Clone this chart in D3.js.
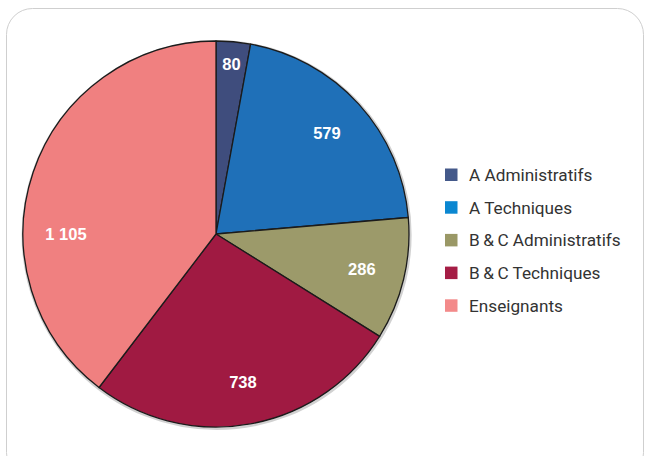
<!DOCTYPE html>
<html>
<head>
<meta charset="utf-8">
<script src="https://cdn.jsdelivr.net/npm/d3@7"></script>
<style>
  html, body { margin: 0; padding: 0; background: #fff; }
  svg { display: block; }
</style>
</head>
<body>
<svg id="chart" width="646" height="456"></svg>
<script>
// Effectifs par catégorie
const categories = ["A Administratifs", "A Techniques", "B\u2009&\u2009C Administratifs", "B\u2009&\u2009C Techniques", "Enseignants"];
const values = [80, 579, 286, 738, 1105];
const colors = ["#3f4d7d", "#1f70b8", "#9c9a6a", "#a01a42", "#f08080"];
const legendColors = ["#44598a", "#0b87d1", "#9a9866", "#a51d45", "#f38a8a"];

const width = 646, height = 456;
const cx = 216, cy = 234, radius = 193;

const svg = d3.select("#chart");

// cadre arrondi
svg.append("rect")
  .attr("x", 6.5).attr("y", 8.5)
  .attr("width", 637).attr("height", 470)
  .attr("rx", 26).attr("ry", 26)
  .attr("fill", "#fff")
  .attr("stroke", "#cfcfcf")
  .attr("stroke-width", 1);

const fr = d3.formatLocale({ decimal: ",", thousands: "\u00a0", grouping: [3], currency: ["", " €"] });
const fmt = fr.format(",d");

const data = categories.map((c, i) => ({ name: c, value: values[i], color: colors[i] }));

const pie = d3.pie().sort(null).value(d => d.value);
const arcs = pie(data);
const arc = d3.arc().innerRadius(0).outerRadius(radius);

const g = svg.append("g").attr("transform", `translate(${cx},${cy})`);

// légère ombre du contour
g.append("circle")
  .attr("r", radius + 0.8)
  .attr("fill", "none")
  .attr("stroke", "rgba(0,0,0,0.18)")
  .attr("stroke-width", 2.5)
  .attr("transform", "translate(0.6,1)");

g.selectAll("path.slice")
  .data(arcs)
  .join("path")
  .attr("class", "slice")
  .attr("d", arc)
  .attr("fill", d => d.data.color)
  .attr("stroke", "#1b1b1b")
  .attr("stroke-width", 1.3)
  .attr("stroke-linejoin", "round");

// placement des étiquettes : rayon et angle ajustés pour certaines parts
const labelRadius = 150;
const labelTweaks = {
  "A Administratifs": { r: 171 },
  "Enseignants": { angle: 3 * Math.PI / 2 }
};

g.selectAll("text.val")
  .data(arcs)
  .join("text")
  .attr("class", "val")
  .each(function (d) {
    const t = labelTweaks[d.data.name] || {};
    const a = t.angle !== undefined ? t.angle : (d.startAngle + d.endAngle) / 2;
    const r = t.r || labelRadius;
    d3.select(this)
      .attr("x", r * Math.sin(a))
      .attr("y", -r * Math.cos(a));
  })
  .attr("text-anchor", "middle")
  .attr("dominant-baseline", "central")
  .attr("fill", "#fff")
  .attr("font-family", "'Liberation Sans', Arial, sans-serif")
  .attr("font-weight", "bold")
  .attr("font-size", 16.5)
  .text(d => fmt(d.data.value));

// légende
const legend = svg.append("g").attr("transform", "translate(445,175)");
const rowGap = 32.7;
const items = legend.selectAll("g.item")
  .data(data)
  .join("g")
  .attr("class", "item")
  .attr("transform", (d, i) => `translate(0,${i * rowGap})`);

items.append("rect")
  .attr("x", 0).attr("y", -6.5)
  .attr("width", 12.5).attr("height", 12.5)
  .attr("fill", (d, i) => legendColors[i]);

items.append("text")
  .attr("x", 24)
  .attr("y", 0)
  .attr("dominant-baseline", "central")
  .attr("fill", "#333")
  .attr("font-family", "Roboto, 'Liberation Sans', sans-serif")
  .attr("font-size", 17.2)
  .text(d => d.name);
</script>
</body>
</html>
